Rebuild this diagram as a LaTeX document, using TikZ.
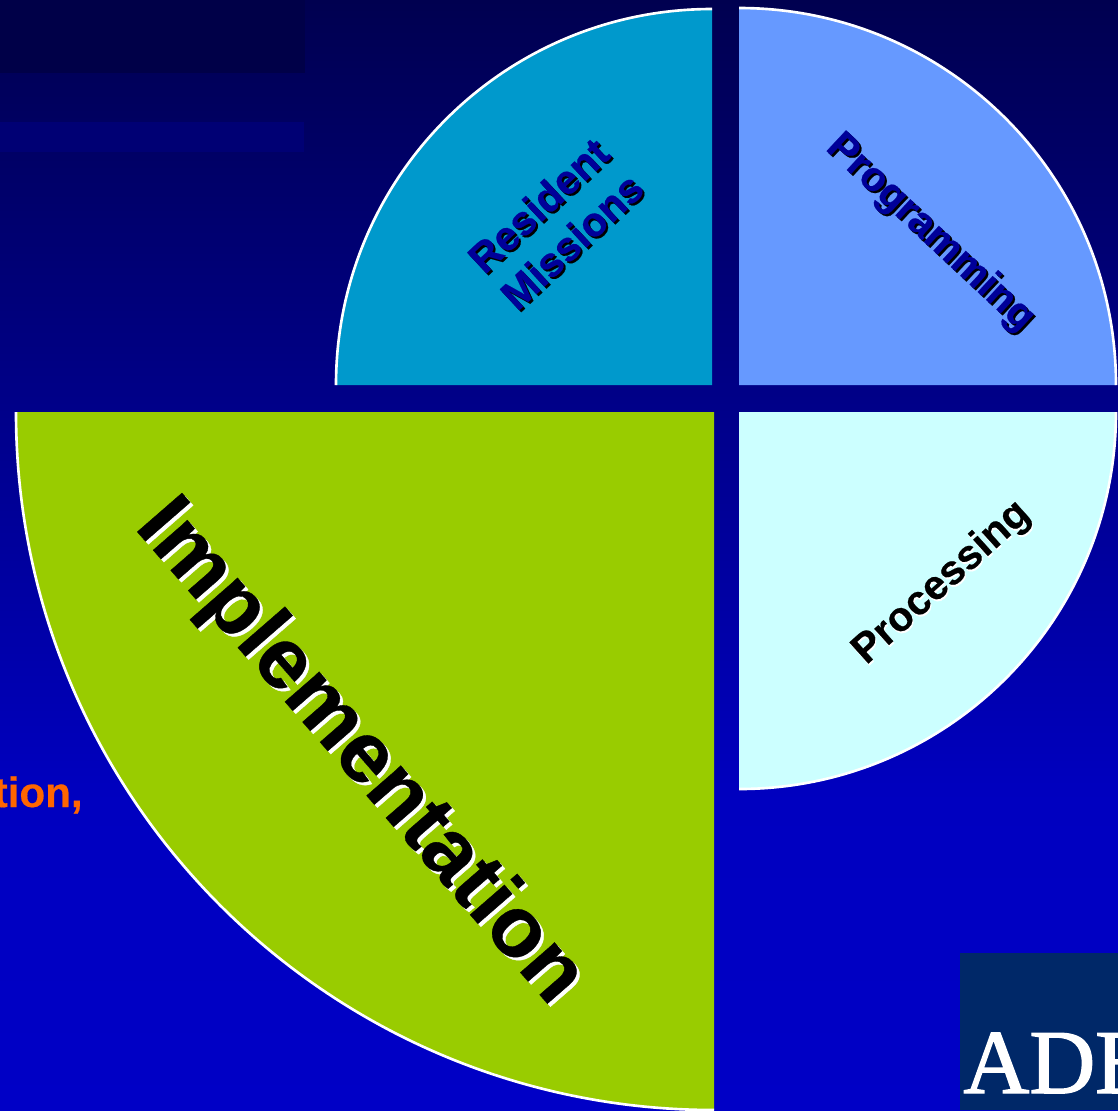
\documentclass[tikz,border=0pt]{standalone}
\usepackage{fontspec}
\setmainfont{Liberation Sans}[BoldFeatures={FakeBold=0.4}]
\newfontfamily\logofont{Liberation Serif}[FakeBold=1.5]
\usepackage{tikz}
\definecolor{bgtop}{RGB}{0,0,80}
\definecolor{bgmid}{RGB}{0,0,192}
\definecolor{bgbottom}{RGB}{0,0,198}
\definecolor{bgdark}{RGB}{0,0,72}
\definecolor{bgband}{RGB}{0,0,116}
\definecolor{adbblue}{RGB}{0,40,104}
\definecolor{residentblue}{RGB}{0,153,204}
\definecolor{programblue}{RGB}{102,153,255}
\definecolor{processcyan}{RGB}{204,255,255}
\definecolor{implementgreen}{RGB}{153,204,0}
\definecolor{labelblue}{RGB}{0,0,153}
\definecolor{noteorange}{RGB}{255,102,0}
\tikzset{
  wedge/.style={draw=white, line width=1.5pt},
  smalllabel/.style={font=\fontsize{23.5}{28}\selectfont\bfseries, align=center, inner sep=0pt},
  biglabel/.style={font=\fontsize{49}{50}\selectfont\bfseries, inner sep=0pt}
}
\begin{document}
\begin{tikzpicture}[x=0.02cm, y=-0.02cm]
\useasboundingbox (0,0) rectangle (1118,1110);
% Background
\shade[top color=bgtop, bottom color=bgmid] (0,0) rectangle (1118,800);
\shade[top color=bgmid, bottom color=bgbottom] (0,800) rectangle (1118,1110);
\fill[bgdark] (0,0) rectangle (305,73);
\fill[bgband] (0,122) rectangle (304,152);

% Wedges
\fill[residentblue] (712,385) -- (336,385) arc[start angle=180, end angle=90, x radius=376, y radius=-376] -- cycle;
\draw[wedge] (336,385) arc[start angle=180, end angle=90, x radius=376, y radius=-376];
\fill[programblue] (739,385) -- (739,8) arc[start angle=90, end angle=0, x radius=377, y radius=-377] -- cycle;
\draw[wedge] (739,8) arc[start angle=90, end angle=0, x radius=377, y radius=-377];
\fill[processcyan] (739,412) -- (1116,412) arc[start angle=0, end angle=-90, x radius=377, y radius=-377] -- cycle;
\draw[wedge] (1116,412) arc[start angle=0, end angle=-90, x radius=377, y radius=-377];
\fill[implementgreen] (714,412) -- (714,1110) arc[start angle=-90, end angle=-180, x radius=698, y radius=-698] -- cycle;
\draw[wedge] (714,1110) arc[start angle=-90, end angle=-180, x radius=698, y radius=-698];

% Wedge labels
\node[smalllabel, text=black, rotate=43] (residentshadow) at (557,225) {Resident\\Missions};
\node[smalllabel, text=labelblue, rotate=43] (resident) at (555,223) {Resident\\Missions};
\node[smalllabel, text=black, rotate=-43] (programshadow) at (932,235) {Programming};
\node[smalllabel, text=labelblue, rotate=-43] (program) at (930,233) {Programming};
\node[smalllabel, text=white, rotate=42] (processshadow) at (943,585) {Processing};
\node[smalllabel, text=black, rotate=42] (process) at (942,583) {Processing};
\node[biglabel, text=white, rotate=-49] (implementshadow) at (362,756) {Implementation};
\node[biglabel, text=black, rotate=-49] (implement) at (359,753) {Implementation};

% Cut off note and logo
\node[anchor=east, inner sep=0pt, text=noteorange, font=\fontsize{24}{28}\selectfont\bfseries] (note) at (83,795) {tion,};
\fill[adbblue] (960,953) rectangle (1118,1110);
\begin{scope}
\clip (960,953) rectangle (1118,1110);
\node[anchor=base west, inner sep=0pt, text=white, font=\fontsize{52}{54}\selectfont\logofont] (logo) at (963,1093) {ADB};
\end{scope}
\end{tikzpicture}
\end{document}
